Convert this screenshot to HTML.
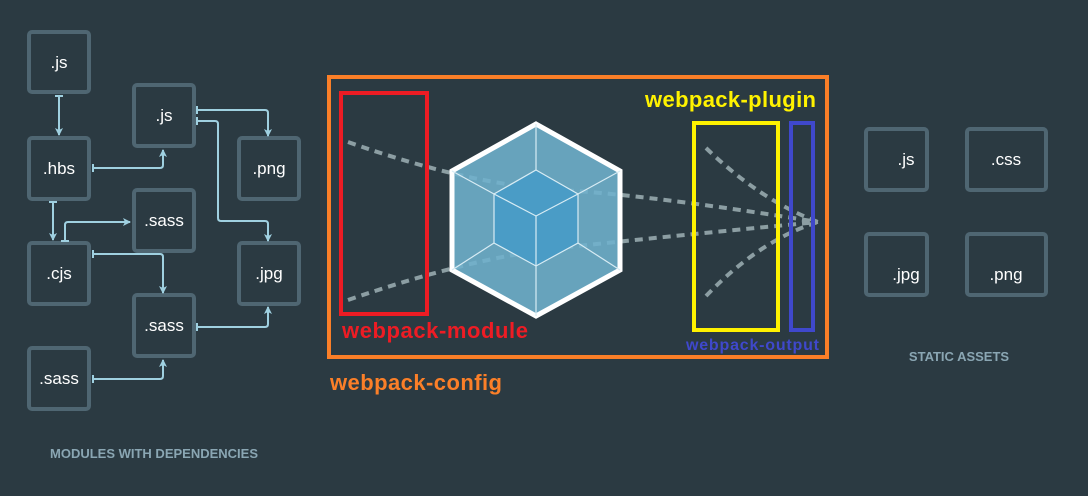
<!DOCTYPE html><html><head><style>body{margin:0;background:#2b3a42}svg{display:block}
text{font-family:"Liberation Sans",sans-serif}</style></head><body>
<svg width="1088" height="496" viewBox="0 0 1088 496" xmlns="http://www.w3.org/2000/svg">
<rect width="1088" height="496" fill="#2b3a42"/>
<defs><marker id="a" markerWidth="8" markerHeight="8" refX="7" refY="4" orient="auto" markerUnits="userSpaceOnUse"><path d="M0,0 L8,4 L0,8 L2,4z" fill="#9fd0e0"/></marker>
<marker id="t" markerWidth="2" markerHeight="8" refX="1" refY="4" orient="auto" markerUnits="userSpaceOnUse"><rect width="2" height="8" fill="#9fd0e0"/></marker></defs>
<g fill="none" stroke="#4f6672" stroke-width="4">
<rect x="29" y="32" width="60" height="60" rx="3"/><rect x="29" y="138" width="60" height="61" rx="3"/><rect x="29" y="243" width="60" height="61" rx="3"/><rect x="29" y="348" width="60" height="61" rx="3"/>
<rect x="134" y="85" width="60" height="61" rx="3"/><rect x="134" y="190" width="60" height="61" rx="3"/><rect x="134" y="295" width="60" height="61" rx="3"/>
<rect x="239" y="138" width="60" height="61" rx="3"/><rect x="239" y="243" width="60" height="61" rx="3"/>
<rect x="866" y="129" width="61" height="61" rx="3"/><rect x="967" y="129" width="79" height="61" rx="3"/><rect x="866" y="234" width="61" height="61" rx="3"/><rect x="967" y="234" width="79" height="61" rx="3"/>
</g>
<g fill="#fff" font-size="17" text-anchor="middle">
<text x="59" y="68">.js</text><text x="59" y="174">.hbs</text><text x="59" y="279">.cjs</text><text x="59" y="384">.sass</text>
<text x="164" y="121">.js</text><text x="164" y="226">.sass</text><text x="164" y="331">.sass</text>
<text x="269" y="174">.png</text><text x="269" y="279">.jpg</text>
<text x="906" y="165">.js</text><text x="1006" y="165">.css</text><text x="906" y="280">.jpg</text><text x="1006" y="280">.png</text>
</g>
<g fill="none" stroke="#9fd0e0" stroke-width="2" marker-start="url(#t)" marker-end="url(#a)">
<path d="M59,96 V135"/>
<path d="M93,168 H160 Q163,168 163,165 V150"/>
<path d="M53,202 V240"/>
<path d="M65,241 V225 Q65,222 68,222 H130"/>
<path d="M93,254 H160 Q163,254 163,257 V293"/>
<path d="M197,110 H265 Q268,110 268,113 V136"/>
<path d="M197,121 H215 Q218,121 218,124 V218 Q218,221 221,221 H265 Q268,221 268,224 V241"/>
<path d="M197,327 H265 Q268,327 268,324 V307"/>
<path d="M93,379 H160 Q163,379 163,376 V360"/>
</g>
<g fill="#8aa6b3" font-size="13" font-weight="bold"><text x="50" y="458">MODULES WITH DEPENDENCIES</text><text x="959" y="361" text-anchor="middle">STATIC ASSETS</text></g>
<rect x="329" y="77" width="498" height="280" fill="none" stroke="#fb7f28" stroke-width="4"/>
<g fill="none" stroke="#8c9ea3" stroke-width="4" stroke-dasharray="8,6">
<path d="M348,142 Q470,185 560,190 T818,222"/>
<path d="M348,300 Q470,258 560,248 T818,222"/>
<path d="M706,148 Q760,200 818,222"/>
<path d="M706,296 Q760,240 818,222"/>
</g>
<polygon points="536,124 620,171 620,270 536,316 452,270 452,171" fill="#6fb2cd" fill-opacity="0.88" stroke="#fff" stroke-width="5"/>
<g stroke="#d8ecf4" stroke-width="1.2"><line x1="536" y1="124" x2="536" y2="170"/><line x1="620" y1="171" x2="578" y2="194"/><line x1="620" y1="270" x2="578" y2="243"/><line x1="536" y1="316" x2="536" y2="266"/><line x1="452" y1="270" x2="494" y2="243"/><line x1="452" y1="171" x2="494" y2="194"/></g>
<polygon points="536,170 578,194 578,243 536,266 494,243 494,194" fill="#4a9cc6" stroke="#d8ecf4" stroke-width="1.2"/>
<polyline points="494,194 536,216 578,194" fill="none" stroke="#d8ecf4" stroke-width="1.2"/><line x1="536" y1="216" x2="536" y2="266" stroke="#d8ecf4" stroke-width="1.2"/>
<rect x="341" y="93" width="86" height="221" fill="none" stroke="#ed1c24" stroke-width="4"/>
<rect x="694" y="123" width="84" height="207" fill="none" stroke="#fff200" stroke-width="4"/>
<rect x="791" y="123" width="22" height="207" fill="none" stroke="#3f48cc" stroke-width="4"/>
<g font-weight="bold" font-family="Liberation Sans,sans-serif">
<text x="645" y="107" font-size="22" fill="#fff200" textLength="171">webpack-plugin</text>
<text x="342" y="338" font-size="22" fill="#ed1c24" textLength="186">webpack-module</text>
<text x="686" y="350" font-size="16" fill="#3f48cc" textLength="133">webpack-output</text>
<text x="330" y="390" font-size="22" fill="#fb7f28" textLength="172">webpack-config</text>
</g>
</svg></body></html>
